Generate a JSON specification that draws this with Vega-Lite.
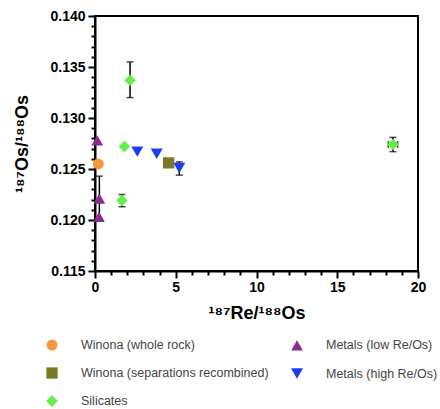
{
  "$schema": "https://vega.github.io/schema/vega-lite/v6.json",
  "width": 323,
  "height": 255,
  "autosize": "none",
  "padding": {"left": 95, "top": 16, "right": 22, "bottom": 138},
  "config": {
    "font": "Liberation Sans",
    "view": {"stroke": "black", "strokeWidth": 2},
    "scale": {"continuousPadding": 0},
    "axis": {"labelFlush": false}
  },
  "data": {
    "values": [
      {"series": "Winona (whole rock)", "x": 0.2, "y": 0.1255},
      {"series": "Winona (separations recombined)", "x": 4.56, "y": 0.1256},
      {"series": "Metals (low Re/Os)", "x": 0.14, "y": 0.1278},
      {"series": "Metals (low Re/Os)", "x": 0.27, "y": 0.1221, "ylo": 0.1201, "yhi": 0.1243},
      {"series": "Metals (low Re/Os)", "x": 0.25, "y": 0.1203},
      {"series": "Silicates", "x": 2.17, "y": 0.1337, "ylo": 0.1320, "yhi": 0.1355},
      {"series": "Silicates", "x": 1.82, "y": 0.1272},
      {"series": "Silicates", "x": 1.67, "y": 0.1219, "ylo": 0.1213, "yhi": 0.1225},
      {"series": "Silicates", "x": 18.45, "y": 0.1274, "ylo": 0.1267, "yhi": 0.1281, "xlo": 18.16, "xhi": 18.74},
      {"series": "Metals (high Re/Os)", "x": 2.62, "y": 0.1267},
      {"series": "Metals (high Re/Os)", "x": 3.82, "y": 0.1265},
      {"series": "Metals (high Re/Os)", "x": 5.22, "y": 0.1251, "ylo": 0.1244, "yhi": 0.1257}
    ]
  },
  "resolve": {"axis": {"x": "independent", "y": "independent"}},
  "layer": [
    {
      "mark": {"type": "point", "opacity": 0},
      "encoding": {
        "x": {"field": "x", "type": "quantitative", "scale": {"domain": [0, 20], "nice": false, "zero": false, "padding": 0},
          "axis": {"orient": "bottom", "values": [1,2,3,4,6,7,8,9,11,12,13,14,16,17,18,19], "labels": false, "domain": false, "grid": false, "tickSize": 4, "tickWidth": 2, "tickColor": "black", "title": null}},
        "y": {"field": "y", "type": "quantitative", "scale": {"domain": [0.115, 0.140], "nice": false, "zero": false, "padding": 0},
          "axis": {"orient": "left", "values": [0.116,0.117,0.118,0.119,0.121,0.122,0.123,0.124,0.126,0.127,0.128,0.129,0.131,0.132,0.133,0.134,0.136,0.137,0.138,0.139], "labels": false, "domain": false, "grid": false, "tickSize": 4, "tickWidth": 2, "tickColor": "black", "title": null}}
      }
    },
    {
      "transform": [{"filter": "datum.ylo != null"}],
      "mark": {"type": "rule", "color": "black", "strokeWidth": 1.5},
      "encoding": {
        "x": {"field": "x", "type": "quantitative", "axis": null},
        "y": {"field": "ylo", "type": "quantitative", "axis": null},
        "y2": {"field": "yhi"}
      }
    },
    {
      "transform": [{"filter": "datum.ylo != null"}],
      "mark": {"type": "tick", "orient": "horizontal", "color": "black", "size": 7, "thickness": 1.5},
      "encoding": {
        "x": {"field": "x", "type": "quantitative", "axis": null},
        "y": {"field": "ylo", "type": "quantitative", "axis": null}
      }
    },
    {
      "transform": [{"filter": "datum.yhi != null"}],
      "mark": {"type": "tick", "orient": "horizontal", "color": "black", "size": 7, "thickness": 1.5},
      "encoding": {
        "x": {"field": "x", "type": "quantitative", "axis": null},
        "y": {"field": "yhi", "type": "quantitative", "axis": null}
      }
    },
    {
      "transform": [{"filter": "datum.xlo != null"}],
      "mark": {"type": "rule", "color": "black", "strokeWidth": 1.5},
      "encoding": {
        "x": {"field": "xlo", "type": "quantitative", "axis": null},
        "x2": {"field": "xhi"},
        "y": {"field": "y", "type": "quantitative", "axis": null}
      }
    },
    {
      "transform": [{"filter": "datum.xlo != null"}],
      "mark": {"type": "tick", "orient": "vertical", "color": "black", "size": 7, "thickness": 1.5},
      "encoding": {
        "x": {"field": "xlo", "type": "quantitative", "axis": null},
        "y": {"field": "y", "type": "quantitative", "axis": null}
      }
    },
    {
      "transform": [{"filter": "datum.xhi != null"}],
      "mark": {"type": "tick", "orient": "vertical", "color": "black", "size": 7, "thickness": 1.5},
      "encoding": {
        "x": {"field": "xhi", "type": "quantitative", "axis": null},
        "y": {"field": "y", "type": "quantitative", "axis": null}
      }
    },
    {
      "mark": {"type": "point", "filled": true, "opacity": 1},
      "encoding": {
        "x": {"field": "x", "type": "quantitative",
          "axis": {"orient": "bottom", "values": [0, 5, 10, 15, 20], "grid": false, "domainColor": "black", "domainWidth": 2, "tickColor": "black", "tickWidth": 2, "tickSize": 7,
            "labelFontSize": 14, "labelFontWeight": "bold", "labelColor": "black", "labelPadding": 2,
            "title": "¹⁸⁷Re/¹⁸⁸Os", "titleFontSize": 18, "titleFontWeight": "bold", "titleColor": "black", "titlePadding": 10}},
        "y": {"field": "y", "type": "quantitative",
          "axis": {"orient": "left", "values": [0.115, 0.12, 0.125, 0.13, 0.135, 0.14], "format": ".3f", "grid": false, "domainColor": "black", "domainWidth": 2, "tickColor": "black", "tickWidth": 2, "tickSize": 7,
            "labelFontSize": 14, "labelFontWeight": "bold", "labelColor": "black", "labelPadding": 3,
            "title": "¹⁸⁷Os/¹⁸⁸Os", "titleFontSize": 18, "titleFontWeight": "bold", "titleColor": "black", "titlePadding": 18}},
        "color": {"field": "series", "type": "nominal",
          "scale": {"domain": ["Winona (whole rock)", "Winona (separations recombined)", "Silicates", "Metals (low Re/Os)", "Metals (high Re/Os)"],
            "range": ["#F59A3C", "#7A7A26", "#66EE48", "#8B2A8F", "#1D3BF2"]},
          "legend": {"orient": "none", "legendX": -50, "legendY": 322, "columns": 2, "title": null, "labelFontSize": 12.5, "labelColor": "#444444", "labelOffset": 22, "labelLimit": 400, "columnPadding": 19, "rowPadding": 9.5, "symbolOpacity": 1}},
        "shape": {"field": "series", "type": "nominal",
          "scale": {"domain": ["Winona (whole rock)", "Winona (separations recombined)", "Silicates", "Metals (low Re/Os)", "Metals (high Re/Os)"],
            "range": ["circle", "square", "diamond", "triangle-up", "triangle-down"]}},
        "size": {"field": "series", "type": "nominal",
          "scale": {"domain": ["Winona (whole rock)", "Winona (separations recombined)", "Silicates", "Metals (low Re/Os)", "Metals (high Re/Os)"],
            "range": [121, 144, 64, 100, 100]}}
      }
    }
  ]
}
